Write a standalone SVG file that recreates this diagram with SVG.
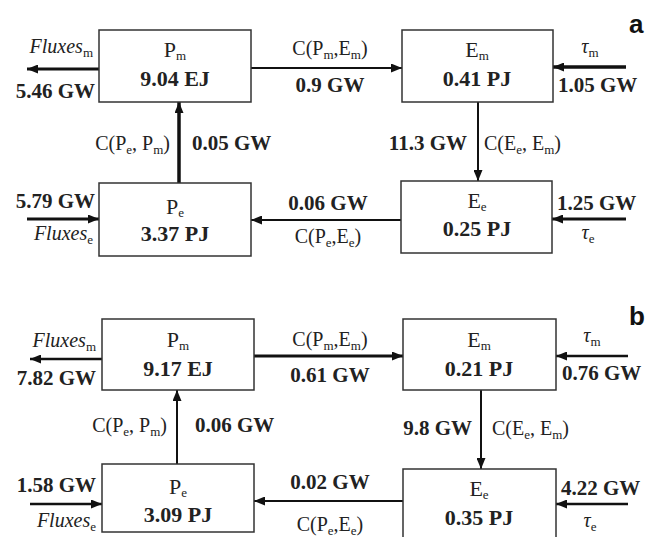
<svg xmlns="http://www.w3.org/2000/svg" width="659" height="537" viewBox="0 0 659 537">
<defs>
<style>
.box{fill:#fff;stroke:#333;stroke-width:1.5}
.t{font-family:"Liberation Serif","Times New Roman",serif;font-size:20px;fill:#222}
.n{font-family:"Liberation Serif","Times New Roman",serif;font-size:22px;fill:#222}
.b{font-family:"Liberation Serif","Times New Roman",serif;font-size:21px;font-weight:bold;fill:#222}
.v{font-family:"Liberation Serif","Times New Roman",serif;font-size:22px;font-weight:bold;fill:#222}
.i{font-family:"Liberation Serif","Times New Roman",serif;font-size:20px;font-style:italic;fill:#222}
.sb{font-size:13px;font-style:normal;font-weight:normal}
.c{fill:none;stroke:#111}
.lab{font-family:"Liberation Sans",Arial,sans-serif;font-size:26px;font-weight:bold;fill:#111}
</style>
<marker id="ah" markerUnits="userSpaceOnUse" markerWidth="11" markerHeight="9" refX="11" refY="4.5" orient="auto">
<path d="M0,0 L11,4.5 L0,9 z" fill="#111"/>
</marker>
</defs>
<rect width="659" height="537" fill="#fff"/>

<g id="connectors">
<!-- panel a -->
<line class="c" x1="99" y1="69" x2="27" y2="69" stroke-width="3" marker-end="url(#ah)"/>
<line class="c" x1="251" y1="68" x2="402" y2="68" stroke-width="2" marker-end="url(#ah)"/>
<line class="c" x1="626" y1="67" x2="553" y2="67" stroke-width="3.5" marker-end="url(#ah)"/>
<line class="c" x1="478" y1="102" x2="478" y2="181" stroke-width="2" marker-end="url(#ah)"/>
<line class="c" x1="179" y1="183" x2="179" y2="102" stroke-width="3.5" marker-end="url(#ah)"/>
<line class="c" x1="401" y1="220" x2="251" y2="220" stroke-width="2" marker-end="url(#ah)"/>
<line class="c" x1="626" y1="219" x2="552" y2="219" stroke-width="3" marker-end="url(#ah)"/>
<line class="c" x1="27" y1="219" x2="99" y2="219" stroke-width="3" marker-end="url(#ah)"/>
<!-- panel b -->
<line class="c" x1="102" y1="359" x2="30" y2="359" stroke-width="2.5" marker-end="url(#ah)"/>
<line class="c" x1="254" y1="356" x2="403" y2="356" stroke-width="3" marker-end="url(#ah)"/>
<line class="c" x1="628" y1="356" x2="556" y2="356" stroke-width="2.5" marker-end="url(#ah)"/>
<line class="c" x1="481" y1="390" x2="481" y2="469" stroke-width="2" marker-end="url(#ah)"/>
<line class="c" x1="177" y1="464" x2="177" y2="390" stroke-width="2" marker-end="url(#ah)"/>
<line class="c" x1="403" y1="501" x2="254" y2="501" stroke-width="2" marker-end="url(#ah)"/>
<line class="c" x1="628" y1="504" x2="556" y2="504" stroke-width="2.5" marker-end="url(#ah)"/>
<line class="c" x1="30" y1="504" x2="102" y2="504" stroke-width="2.5" marker-end="url(#ah)"/>

<!-- labels panel a -->
<text class="i" x="93" y="53" text-anchor="end">Fluxes<tspan class="sb" dy="4">m</tspan></text>
<text class="b" x="95" y="98" text-anchor="end">5.46 GW</text>
<text class="t" x="330" y="55" text-anchor="middle">C(P<tspan class="sb" dy="4">m</tspan><tspan dy="-4">,E</tspan><tspan class="sb" dy="4">m</tspan><tspan dy="-4">)</tspan></text>
<text class="b" x="330" y="92" text-anchor="middle">0.9 GW</text>
<text class="i" x="590" y="53" text-anchor="middle">τ<tspan class="sb" dy="4">m</tspan></text>
<text class="b" x="558" y="92">1.05 GW</text>
<text class="b" x="467" y="150" text-anchor="end">11.3 GW</text>
<text class="t" x="484" y="150">C(E<tspan class="sb" dy="4">e</tspan><tspan dy="-4">, E</tspan><tspan class="sb" dy="4">m</tspan><tspan dy="-4">)</tspan></text>
<text class="t" x="170" y="150" text-anchor="end">C(P<tspan class="sb" dy="4">e</tspan><tspan dy="-4">, P</tspan><tspan class="sb" dy="4">m</tspan><tspan dy="-4">)</tspan></text>
<text class="b" x="192" y="150">0.05 GW</text>
<text class="b" x="328" y="210" text-anchor="middle">0.06 GW</text>
<text class="t" x="328" y="243" text-anchor="middle">C(P<tspan class="sb" dy="4">e</tspan><tspan dy="-4">,E</tspan><tspan class="sb" dy="4">e</tspan><tspan dy="-4">)</tspan></text>
<text class="b" x="557" y="210">1.25 GW</text>
<text class="i" x="588" y="239" text-anchor="middle">τ<tspan class="sb" dy="4">e</tspan></text>
<text class="b" x="95" y="208" text-anchor="end">5.79 GW</text>
<text class="i" x="93" y="240" text-anchor="end">Fluxes<tspan class="sb" dy="4">e</tspan></text>

<!-- labels panel b -->
<text class="i" x="96" y="347" text-anchor="end">Fluxes<tspan class="sb" dy="4">m</tspan></text>
<text class="b" x="96" y="385" text-anchor="end">7.82 GW</text>
<text class="t" x="330" y="346" text-anchor="middle">C(P<tspan class="sb" dy="4">m</tspan><tspan dy="-4">,E</tspan><tspan class="sb" dy="4">m</tspan><tspan dy="-4">)</tspan></text>
<text class="b" x="330" y="382" text-anchor="middle">0.61 GW</text>
<text class="i" x="592" y="342" text-anchor="middle">τ<tspan class="sb" dy="4">m</tspan></text>
<text class="b" x="562" y="380">0.76 GW</text>
<text class="b" x="472" y="435" text-anchor="end">9.8 GW</text>
<text class="t" x="492" y="435">C(E<tspan class="sb" dy="4">e</tspan><tspan dy="-4">, E</tspan><tspan class="sb" dy="4">m</tspan><tspan dy="-4">)</tspan></text>
<text class="t" x="167" y="432" text-anchor="end">C(P<tspan class="sb" dy="4">e</tspan><tspan dy="-4">, P</tspan><tspan class="sb" dy="4">m</tspan><tspan dy="-4">)</tspan></text>
<text class="b" x="195" y="432">0.06 GW</text>
<text class="b" x="330" y="489" text-anchor="middle">0.02 GW</text>
<text class="t" x="330" y="531" text-anchor="middle">C(P<tspan class="sb" dy="4">e</tspan><tspan dy="-4">,E</tspan><tspan class="sb" dy="4">e</tspan><tspan dy="-4">)</tspan></text>
<text class="b" x="561" y="495">4.22 GW</text>
<text class="i" x="590" y="527" text-anchor="middle">τ<tspan class="sb" dy="4">e</tspan></text>
<text class="b" x="96" y="492" text-anchor="end">1.58 GW</text>
<text class="i" x="96" y="527" text-anchor="end">Fluxes<tspan class="sb" dy="4">e</tspan></text>
</g>

<!-- panel a nodes -->
<g id="node-a-Pm">
<rect class="box" x="99" y="30" width="152" height="72"/>
<text class="n" x="175" y="57" text-anchor="middle">P<tspan class="sb" dy="3">m</tspan></text>
<text class="v" x="175" y="86" text-anchor="middle">9.04 EJ</text>
</g>
<g id="node-a-Em">
<rect class="box" x="402" y="30" width="151" height="72"/>
<text class="n" x="477" y="57" text-anchor="middle">E<tspan class="sb" dy="3">m</tspan></text>
<text class="v" x="477" y="86" text-anchor="middle">0.41 PJ</text>
</g>
<g id="node-a-Pe">
<rect class="box" x="99" y="183" width="152" height="73"/>
<text class="n" x="175" y="214" text-anchor="middle">P<tspan class="sb" dy="3">e</tspan></text>
<text class="v" x="175" y="241" text-anchor="middle">3.37 PJ</text>
</g>
<g id="node-a-Ee">
<rect class="box" x="401" y="181" width="151" height="72"/>
<text class="n" x="477" y="208" text-anchor="middle">E<tspan class="sb" dy="3">e</tspan></text>
<text class="v" x="477" y="236" text-anchor="middle">0.25 PJ</text>
</g>

<!-- panel b nodes -->
<g id="node-b-Pm">
<rect class="box" x="102" y="319" width="152" height="71"/>
<text class="n" x="178" y="347" text-anchor="middle">P<tspan class="sb" dy="3">m</tspan></text>
<text class="v" x="178" y="376" text-anchor="middle">9.17 EJ</text>
</g>
<g id="node-b-Em">
<rect class="box" x="403" y="319" width="153" height="71"/>
<text class="n" x="479" y="347" text-anchor="middle">E<tspan class="sb" dy="3">m</tspan></text>
<text class="v" x="479" y="376" text-anchor="middle">0.21 PJ</text>
</g>
<g id="node-b-Pe">
<rect class="box" x="102" y="464" width="152" height="68"/>
<text class="n" x="178" y="494" text-anchor="middle">P<tspan class="sb" dy="3">e</tspan></text>
<text class="v" x="178" y="522" text-anchor="middle">3.09 PJ</text>
</g>
<g id="node-b-Ee">
<rect class="box" x="403" y="469" width="153" height="80"/>
<text class="n" x="479" y="496" text-anchor="middle">E<tspan class="sb" dy="3">e</tspan></text>
<text class="v" x="479" y="525" text-anchor="middle">0.35 PJ</text>
</g>

<text class="lab" x="629" y="33">a</text>
<text class="lab" x="629" y="325">b</text>
</svg>
